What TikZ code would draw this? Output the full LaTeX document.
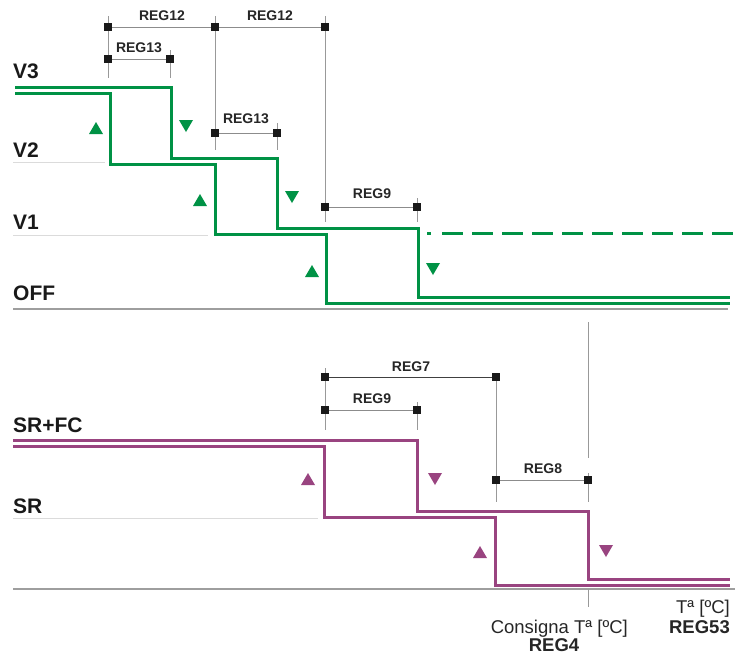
\documentclass[tikz,border=0pt]{standalone}
\usepackage{fontspec}
\setmainfont{Liberation Sans}
\definecolor{grn}{RGB}{0,146,69}
\definecolor{pur}{RGB}{153,68,128}
\begin{document}
\begin{tikzpicture}[x=1pt,y=-1pt,
  sq/.style={rectangle,fill=black!90,minimum size=7.5pt,inner sep=0pt},
  dimline/.style={draw=black!45,line width=0.9pt},
  ext/.style={draw=black!40,line width=0.9pt},
  baseline/.style={draw=black!14,line width=1pt},
  axisline/.style={draw=black!38,line width=1.2pt},
  gline/.style={draw=grn,line width=3pt},
  pline/.style={draw=pur,line width=3pt},
  big/.style={font=\fontsize{21}{21}\selectfont\bfseries,anchor=base west,inner sep=0pt,text=black!90},
  reg/.style={font=\fontsize{14}{14}\selectfont\bfseries,anchor=base,inner sep=0pt,text=black!85},
  txt/.style={font=\fontsize{18.5}{18.5}\selectfont,inner sep=0pt,text=black!85},
  tup/.pic={\fill[#1] (-7,6) -- (7,6) -- (0,-6) -- cycle;},
  tdown/.pic={\fill[#1] (-7,-6) -- (7,-6) -- (0,6) -- cycle;},
]
\useasboundingbox (0,0) rectangle (737,657);

% ---------- level labels ----------
\node[big] (lV3) at (13,78) {V3};
\node[big] (lV2) at (13,157) {V2};
\node[big] (lV1) at (13,229) {V1};
\node[big] (lOFF) at (13,300) {OFF};
\node[big] (lSRFC) at (13,432) {SR+FC};
\node[big] (lSR) at (13,513) {SR};

% ---------- base lines ----------
\draw[baseline] (13,162) -- (105,162);
\draw[baseline] (13,235) -- (208,235);
\draw[axisline] (13,309) -- (728,309);
\draw[baseline] (13,518) -- (318,518);
\draw[axisline] (13,589) -- (735,589);

% ---------- extension lines ----------
\draw[ext] (108,16) -- (108,78);
\draw[ext] (215,16) -- (215,150);
\draw[ext] (325,16) -- (325,222);
\draw[ext] (170,50) -- (170,78);
\draw[ext] (277,123) -- (277,150);
\draw[ext] (417,198) -- (417,222);
\draw[ext] (325,368) -- (325,430);
\draw[ext] (417,402) -- (417,430);
\draw[ext] (496,377) -- (496,502);
\draw[ext] (588,322) -- (588,458);
\draw[ext] (588,473) -- (588,502);
\draw[ext] (588,589) -- (588,607);

% ---------- dimension squares ----------
\node[sq] (a1) at (108,27) {};
\node[sq] (a2) at (215,27) {};
\node[sq] (a3) at (325,27) {};
\node[sq] (b1) at (108,59) {};
\node[sq] (b2) at (170,59) {};
\node[sq] (c1) at (215,133) {};
\node[sq] (c2) at (277,133) {};
\node[sq] (d1) at (325,207) {};
\node[sq] (d2) at (417,207) {};
\node[sq] (e1) at (325,377) {};
\node[sq] (e2) at (496,377) {};
\node[sq] (f1) at (325,410) {};
\node[sq] (f2) at (417,410) {};
\node[sq] (g1) at (496,480) {};
\node[sq] (g2) at (588,480) {};

\draw[dimline] (a1) -- (a2) -- (a3);
\draw[dimline] (b1) -- (b2);
\draw[dimline] (c1) -- (c2);
\draw[dimline] (d1) -- (d2);
\draw[dimline,draw=black!75] (e1) -- (e2);
\draw[dimline] (f1) -- (f2);
\draw[dimline] (g1) -- (g2);

% ---------- dimension labels ----------
\node[reg] (r12a) at (162,20) {REG12};
\node[reg] (r12b) at (270,20) {REG12};
\node[reg] (r13a) at (139,52) {REG13};
\node[reg] (r13b) at (246,123) {REG13};
\node[reg] (r9a) at (372,198) {REG9};
\node[reg] (r7) at (411,371) {REG7};
\node[reg] (r9b) at (372,403) {REG9};
\node[reg] (r8) at (543,473) {REG8};

% ---------- green steps ----------
\draw[gline] (15,87) -- (171,87) -- (171,158) -- (277,158) -- (277,228) -- (418,228) -- (418,297) -- (730,297);
\draw[gline] (15,93) -- (110,93) -- (110,164) -- (215,164) -- (215,234) -- (326,234) -- (326,303) -- (730,303);
\draw[gline] (427,233) -- (431,233);
\draw[gline,dash pattern=on 21pt off 9pt] (442,233) -- (733,233);

\pic at (96,128) {tup=grn};
\pic at (186,126) {tdown=grn};
\pic at (200,200) {tup=grn};
\pic at (292,197) {tdown=grn};
\pic at (312,271) {tup=grn};
\pic at (433,269) {tdown=grn};

% ---------- purple steps ----------
\draw[pline] (13,440) -- (417,440) -- (417,511) -- (588,511) -- (588,579) -- (730,579);
\draw[pline] (13,446) -- (324,446) -- (324,517) -- (495,517) -- (495,585) -- (730,585);

\pic at (308,479) {tup=pur};
\pic at (435,479) {tdown=pur};
\pic at (480,552) {tup=pur};
\pic at (606,551) {tdown=pur};

% ---------- axis texts ----------
\node[txt,anchor=base east] (cons) at (628,633) {Consigna Tª [ºC]};
\node[txt,anchor=base,font=\fontsize{18.5}{18.5}\selectfont\bfseries] (reg4) at (554,651) {REG4};
\node[txt,anchor=base east] (ta) at (730,613) {Tª [ºC]};
\node[txt,anchor=base east,font=\fontsize{18.5}{18.5}\selectfont\bfseries] (reg53) at (730,633) {REG53};
\end{tikzpicture}
\end{document}
